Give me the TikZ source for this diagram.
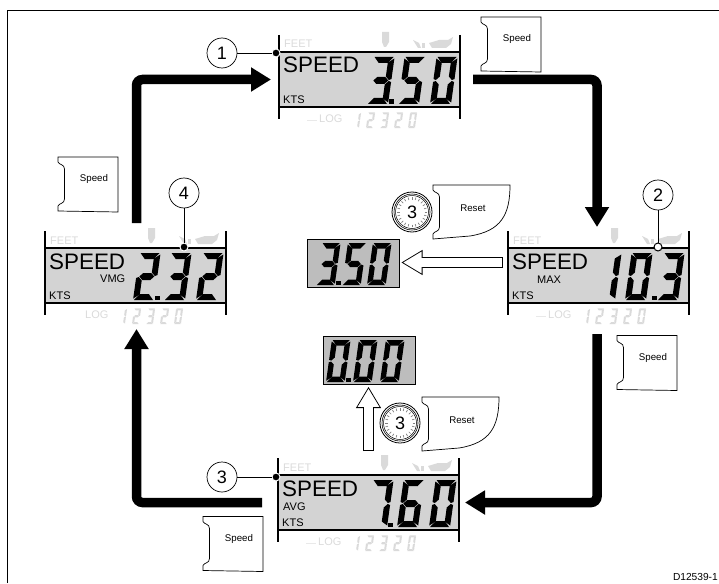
\documentclass[tikz,border=0pt]{standalone}
\usepackage{fontspec}
\setmainfont{Liberation Sans}
\usepackage{xcolor}
\usetikzlibrary{arrows.meta, positioning, calc}
\definecolor{lcdgray}{HTML}{D3D3D3}
\definecolor{boxgray}{HTML}{BDBDBD}
\definecolor{palegray}{HTML}{DADADA}

% segments of one LCD digit, 21 wide and 47 high
\newcommand{\lcdsega}{(1,47) -- (20,47) -- (15,41) -- (6,41) -- cycle}
\newcommand{\lcdsegb}{(21,45.5) -- (21,25) -- (18.5,24) -- (15,27.5) -- (15,41.5) -- cycle}
\newcommand{\lcdsegc}{(21,22) -- (21,1.5) -- (15,5.5) -- (15,19.5) -- (18.5,23) -- cycle}
\newcommand{\lcdsegd}{(20,0) -- (1,0) -- (6,6) -- (15,6) -- cycle}
\newcommand{\lcdsege}{(0,1.5) -- (0,22) -- (2.5,23) -- (6,19.5) -- (6,5.5) -- cycle}
\newcommand{\lcdsegf}{(0,25) -- (0,45.5) -- (6,41.5) -- (6,27.5) -- (2.5,24) -- cycle}
\newcommand{\lcdsegg}{(3,23.5) -- (6.5,27) -- (14.5,27) -- (18,23.5) -- (14.5,20) -- (6.5,20) -- cycle}
\newcommand{\digzero}{a,b,c,d,e,f}
\newcommand{\digone}{b,c}
\newcommand{\digtwo}{a,b,g,e,d}
\newcommand{\digthree}{a,b,g,c,d}
\newcommand{\digfive}{a,f,g,c,d}
\newcommand{\digsix}{a,f,g,e,c,d}
\newcommand{\digseven}{a,b,c}

% x, y of the lower left corner, scale, segments, colour
\newcommand{\lcddigit}[5]{%
  \edef\lcdsegs{#4}%
  \begin{scope}[shift={(#1,#2)}, x=#3pt, y=#3pt, xslant=0.14]
    \foreach \segname in \lcdsegs {%
      \expandafter\let\expandafter\segpath\csname lcdseg\segname\endcsname
      \fill[#5] \segpath;
    }
  \end{scope}}

% name, left end and top rule of a display
\newcommand{\lcdpanel}[3]{%
  \node[panelbody] (#1) at (#2,#3) {};
  \begin{scope}[shift={(#2,#3)}]
    \draw[paneltick] (0,-17) -- (0,67);
    \draw[paneltick] (181,-17) -- (181,67);
    \draw[panelrule] (0,0) -- (181,0);
    \draw[panelrule] (0,55) -- (181,55);
    \node[speedtext] (#1-speed) at (4,21) {SPEED};
    \node[smalltext] (#1-kts) at (4,51) {KTS};
    \node[smalltext, palegray] (#1-feet) at (5,-4) {FEET};
    \node[smalltext, palegray] (#1-log) at (40,70) {LOG};
    \foreach \dx/\dg in {73/\digone, 87/\digtwo, 101/\digthree, 115/\digtwo, 129/\digzero}
      \lcddigit{\dx}{76}{0.33}{\dg}{palegray};
    % symbols above the top rule
    \fill[palegray] (103,-20) -- (110,-20) -- (110,-10) -- (107,-5) -- (105,-5) -- (103,-10) -- cycle;
    \fill[palegray] (134,-12) -- (140,-9) -- (142,-4) -- (139,-4) -- cycle;
    \fill[palegray] (143,-9) -- (146,-9) -- (146,-4) -- (143,-4) -- cycle;
    \fill[palegray] (150,-9) -- (160,-12) -- (169,-12) -- (174,-15) -- (172,-8) -- (167,-4) -- (153,-4) -- cycle;
  \end{scope}}

% left end and top rule of a display, its three digits, place of the point
\newcommand{\lcdreading}[6]{%
  \begin{scope}[shift={(#1,#2)}]
    \lcddigit{88}{52}{1}{#3}{black}
    \fill (#6,47.5) rectangle ++(5,4.5);
    \lcddigit{119}{52}{1}{#4}{black}
    \lcddigit{151}{52}{1}{#5}{black}
  \end{scope}}

% hollow arrow between two points
\newcommand{\hollowarrow}[2]{%
  \draw[hollowback] #1 -- #2;
  \draw[hollowfront] #1 -- #2;}

\tikzset{
  panelbody/.style={anchor=north west, fill=lcdgray, minimum width=181pt, minimum height=55pt, inner sep=0pt, outer sep=0pt},
  paneltick/.style={line width=1.6pt},
  panelrule/.style={line width=2.2pt},
  speedtext/.style={anchor=base west, inner sep=0pt, font=\fontsize{22.4}{24}\selectfont},
  smalltext/.style={anchor=base west, inner sep=0pt, font=\fontsize{11}{13}\selectfont},
  keytext/.style={inner sep=0pt, font=\fontsize{9.7}{11}\selectfont},
  readout/.style={draw, line width=0.7pt, fill=boxgray, anchor=north west, minimum width=92pt, minimum height=48pt, inner sep=0pt, outer sep=0pt},
  bigarrow/.style={line width=9.5pt, rounded corners=6pt, -{Triangle[length=20pt, width=23pt]}},
  hollowback/.style={line width=11pt, -{Triangle[length=21pt, width=25pt, fill=white, line width=0.8pt]}},
  hollowfront/.style={white, line width=9pt, shorten >=19pt, shorten <=1pt},
  callout/.style={draw, circle, line width=0.7pt, fill=white, minimum size=30pt, inner sep=0pt, font=\fontsize{18}{20}\selectfont},
  leaddot/.style={circle, fill=black, draw=white, line width=1pt, minimum size=8pt, inner sep=0pt},
  leadline/.style={line width=0.7pt},
  speedkey/.pic={
    \draw[line width=0.7pt, fill=white] (0,0) -- (60,0) -- (60,55) -- (0,54) -- (0,49)
      .. controls (1,46) and (6.5,47) .. (6.5,42) -- (6.5,12) .. controls (6.5,7) and (1,8) .. (0,5) -- cycle;
    \node[keytext] (-label) at (36,22) {Speed};
  },
  resetkey/.pic={
    \draw[line width=0.7pt, fill=white] (0,0) -- (77,0) .. controls (77,30) and (68,46) .. (37,51) -- (0,54) -- (0,49)
      .. controls (1,46) and (6.5,47) .. (6.5,42) -- (6.5,12) .. controls (6.5,7) and (1,8) .. (0,5) -- cycle;
    \node[keytext] (-label) at (40,23) {Reset};
  },
  holddial/.pic={
    \draw[line width=0.8pt, fill=white] (0,0) circle (20);
    \draw[line width=0.6pt] (0,0) circle (18);
    \draw[line width=0.5pt] (0,0) circle (16.5);
    \foreach \a in {0,15,...,345}
      \draw[gray, line width=0.7pt] (\a:12.5) -- (\a:15);
    \node[inner sep=0pt, font=\fontsize{18}{20}\selectfont] (-num) at (0,0) {3};
  }
}

\begin{document}
\begin{tikzpicture}[x=1pt, y=-1pt, >=Stealth]
  \useasboundingbox (0,0) rectangle (719,583);

  % Frame
  \draw[line width=0.8pt] (7,583) -- (7,10.5) -- (719,10.5);
  \node[anchor=east, inner sep=0pt, font=\fontsize{10.2}{12}\selectfont] (drawingno) at (718,577) {D12539-1};

  % Displays
  \lcdpanel{lcd1}{279}{52}
  \lcdreading{279}{52}{\digthree}{\digfive}{\digzero}{110}
  \lcdpanel{lcd2}{508}{248}
  \lcdreading{506}{248}{\digone}{\digzero}{\digthree}{146}
  \node[smalltext] (maxlabel) at (537,283) {MAX};
  \lcdpanel{lcd3}{278}{475}
  \lcdreading{278}{475}{\digseven}{\digsix}{\digzero}{110}
  \node[smalltext] (avglabel) at (283,510) {AVG};
  \lcdpanel{lcd4}{45}{248}
  \lcdreading{45}{248}{\digtwo}{\digthree}{\digtwo}{110}
  \node[smalltext] (vmglabel) at (100,282) {VMG};

  % Dashes in front of LOG
  \draw[palegray!60, line width=0.6pt] (307,120) -- (317,120);
  \draw[palegray!60, line width=0.6pt] (536,316) -- (546,316);
  \draw[palegray!60, line width=0.6pt] (306,543) -- (316,543);

  % Reset readouts
  \node[readout] (small1) at (307,239) {};
  \lcddigit{316}{285}{0.89}{\digthree}{black}
  \fill (336,280.5) rectangle (340.5,285);
  \lcddigit{342}{285}{0.89}{\digfive}{black}
  \lcddigit{367}{285}{0.89}{\digzero}{black}
  \node[readout] (small2) at (323,336) {};
  \lcddigit{326}{382}{0.89}{\digzero}{black}
  \fill (346,377.5) rectangle (350.5,382);
  \lcddigit{353}{382}{0.89}{\digzero}{black}
  \lcddigit{380}{382}{0.89}{\digzero}{black}

  % Cycle of thick arrows
  \draw[bigarrow] ([xshift=13pt]lcd1.east) -| ([xshift=-1.5pt, yshift=21pt]lcd2.north);
  \draw[bigarrow] ([xshift=-1.5pt, yshift=-31pt]lcd2.south) |- ([xshift=6pt]lcd3.east);
  \draw[bigarrow] ([xshift=-16pt]lcd3.west) -| ([xshift=1pt, yshift=-26pt]lcd4.south);
  \draw[bigarrow] ([xshift=1pt, yshift=25pt]lcd4.north) |- ([xshift=-8pt]lcd1.west);

  % Hollow arrows to the readouts
  \hollowarrow{([xshift=-5pt, yshift=13pt]lcd2.west)}{([xshift=2.5pt, yshift=0.5pt]small1.east)}
  \hollowarrow{([xshift=-0.5pt, yshift=-67pt]small2.south)}{([xshift=-0.5pt, yshift=-3pt]small2.south)}

  % Soft keys
  \pic (key1) at (481,17) {speedkey};
  \pic (key2) at (617,335.5) {speedkey};
  \pic (key3) at (203,516.5) {speedkey};
  \pic (key4) at (58,157) {speedkey};
  \pic (reset1) at (433,185) {resetkey};
  \pic (reset2) at (422,397) {resetkey};
  \pic (dial1) at (412,212) {holddial};
  \pic (dial2) at (400,423) {holddial};

  % Callouts
  \node[callout] (num1) at (222,53) {1};
  \node[leaddot] (dot1) at (276,53) {};
  \draw[leadline] (num1) -- (dot1);
  \node[callout] (num2) at (658,195) {2};
  \node[leaddot, fill=white, draw=black] (dot2) at (658,247) {};
  \draw[leadline] (num2) -- (dot2);
  \node[callout] (num3) at (222,477) {3};
  \node[leaddot] (dot3) at (276,477) {};
  \draw[leadline] (num3) -- (dot3);
  \node[callout] (num4) at (184,193) {4};
  \node[leaddot] (dot4) at (184,247) {};
  \draw[leadline] (num4) -- (dot4);
\end{tikzpicture}
\end{document}
